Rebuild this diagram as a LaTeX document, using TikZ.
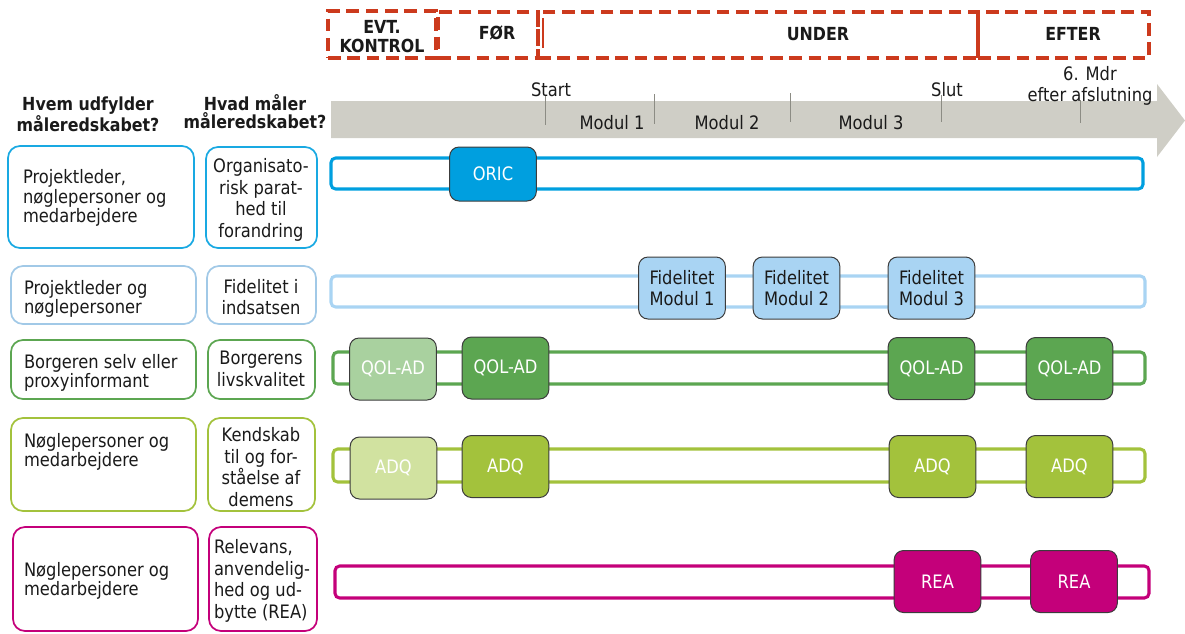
\documentclass[tikz,border=0pt]{standalone}
\usepackage{fontspec}
\setmainfont[FakeStretch=0.88]{DejaVu Sans}
\usetikzlibrary{fit}

\definecolor{oricblue}{HTML}{009FDF}
\definecolor{fidblue}{HTML}{A9D4F3}
\definecolor{qolgreen}{HTML}{5CA651}
\definecolor{qollight}{HTML}{A9D19F}
\definecolor{adqgreen}{HTML}{A3C23C}
\definecolor{adqlight}{HTML}{D1E2A0}
\definecolor{reapink}{HTML}{C4007A}
\definecolor{phasered}{HTML}{CC3A1D}
\definecolor{axisgrey}{HTML}{CFCEC6}
\definecolor{tickgrey}{HTML}{8C8C84}
\definecolor{boxedge}{HTML}{3C3C3C}
\definecolor{inktext}{HTML}{1A1A1A}

\tikzset{
  every node/.style={inner sep=0pt, outer sep=0pt, text=inktext,
    font=\fontsize{13.9pt}{16.3pt}\selectfont},
  phasebox/.style={draw=phasered, line width=2.3pt,
    dash pattern=on 9.5pt off 5pt},
  phaselbl/.style={font=\fontsize{13.5pt}{14.3pt}\selectfont\bfseries, align=center},
  header/.style={font=\fontsize{13.5pt}{13.6pt}\selectfont\bfseries, align=center},
  axislbl/.style={align=center},
  ticmark/.style={draw=tickgrey, line width=0.7pt},
  whobox/.style={draw=#1, line width=1.3pt, rounded corners=9pt},
  whotext/.style={anchor=west, align=left,
    font=\fontsize{13.9pt}{10.8pt}\selectfont},
  whattext/.style={align=center,
    font=\fontsize{13.9pt}{16.3pt}\selectfont},
  bar/.style={draw=#1, line width=2.3pt, rounded corners=3.5pt},
  evbox/.style={draw=boxedge, line width=0.75pt, rounded corners=7pt,
    fill=#1, text=white, align=center,
    minimum width=65pt, minimum height=46.5pt},
}

\begin{document}
\begin{tikzpicture}[x=0.75pt, y=-0.75pt]
\useasboundingbox (0,0) rectangle (1185,633);

% ---- phases ----
\node[phasebox, fit={(328,11) (436,58)}] (pEvt) {};
\node[phasebox, fit={(438,12) (538,58)}] (pFor) {};
\node[phasebox, fit={(538,12) (978,58)}] (pUnder) {};
\node[phasebox, fit={(978,12) (1149,58)}] (pEfter) {};
\draw[phasered, line width=1pt] (543,18) -- (543,48);
\node[phaselbl] (lEvt) at (382,37) {EVT.\\KONTROL};
\node[phaselbl] (lFor) at (497,33) {FØR};
\node[phaselbl] (lUnder) at (818,34) {UNDER};
\node[phaselbl] (lEfter) at (1073,34) {EFTER};

% ---- time axis ----
\fill[axisgrey] (331,101) -- (1157,101) -- (1157,84) -- (1185,120.5)
  -- (1157,157) -- (1157,138) -- (331,138) -- cycle;
\draw[ticmark] (545,95) -- (545,125);
\draw[ticmark] (654,94) -- (654,124);
\draw[ticmark] (790,93) -- (790,122);
\draw[ticmark] (941,95) -- (941,122);
\draw[ticmark] (1080,100) -- (1080,123);
\node[axislbl] (aStart) at (551,90) {Start};
\node[axislbl] (aM1) at (612,123) {Modul 1};
\node[axislbl] (aM2) at (727,123) {Modul 2};
\node[axislbl] (aM3) at (871,123) {Modul 3};
\node[axislbl] (aSlut) at (947,90) {Slut};
\node[axislbl, font=\fontsize{13.9pt}{15.8pt}\selectfont] (aMdr) at (1090,86) {6. Mdr\\efter afslutning};

% ---- column headers ----
\node[header] (hWho) at (88,114) {Hvem udfylder\\måleredskabet?};
\node[header] (hWhat) at (255,112) {Hvad måler\\måleredskabet?};

% ---- left boxes ----
\node[whobox=oricblue!90, fit={(8,146) (194,248)}] (w1) {};
\node[whobox=oricblue!90, fit={(206,147) (317,248)}] (m1) {};
\node[whobox=fidblue!95!black, fit={(11,266) (196,324)}] (w2) {};
\node[whobox=fidblue!95!black, fit={(207,266) (316,324)}] (m2) {};
\node[whobox=qolgreen, fit={(11,340) (196,399)}] (w3) {};
\node[whobox=qolgreen, fit={(208,340) (315,399)}] (m3) {};
\node[whobox=adqgreen, fit={(11,418) (196,511)}] (w4) {};
\node[whobox=adqgreen, fit={(208,418) (315,511)}] (m4) {};
\node[whobox=reapink, fit={(13,527) (198,631)}] (w5) {};
\node[whobox=reapink, fit={(209,527) (317,631)}] (m5) {};

\node[whotext] (tw1) at (23,198) {Projektleder,\\nøglepersoner og\\medarbejdere};
\node[whotext] (tw2) at (24,299) {Projektleder og\\nøglepersoner};
\node[whotext] (tw3) at (24,373) {Borgeren selv eller\\proxyinformant};
\node[whotext] (tw4) at (24,452) {Nøglepersoner og\\medarbejdere};
\node[whotext] (tw5) at (24,581) {Nøglepersoner og\\medarbejdere};

\node[whattext] (tm1) at (261,200) {Organisato-\\risk parat-\\hed til\\forandring};
\node[whattext] (tm2) at (261,297) {Fidelitet i\\indsatsen};
\node[whattext] (tm3) at (261,369) {Borgerens\\livskvalitet};
\node[whattext] (tm4) at (261,467) {Kendskab\\til og for-\\ståelse af\\demens};
\node[whattext, align=left, anchor=west] (tm5) at (214,581) {Relevans,\\anvendelig-\\hed og ud-\\bytte (REA)};

% ---- timeline bars ----
\node[bar=oricblue, fit={(331,158) (1143,189)}] (bar1) {};
\node[bar=fidblue, fit={(331,276) (1145,307)}] (bar2) {};
\node[bar=qolgreen, fit={(333,352) (1145,384)}] (bar3) {};
\node[bar=adqgreen, fit={(333,449) (1145,482)}] (bar4) {};
\node[bar=reapink, fit={(335,566) (1149,598)}] (bar5) {};

% ---- measurements ----
\node[evbox=oricblue, minimum height=40.5pt] (oric) at (493,174) {ORIC};

\node[evbox=fidblue, text=inktext] (fid1) at (682,288) {Fidelitet\\Modul 1};
\node[evbox=fidblue, text=inktext] (fid2) at (796.5,288) {Fidelitet\\Modul 2};
\node[evbox=fidblue, text=inktext] (fid3) at (931.5,288) {Fidelitet\\Modul 3};

\node[evbox=qollight] (qol0) at (393,369) {QOL-AD};
\node[evbox=qolgreen] (qol1) at (505.5,368) {QOL-AD};
\node[evbox=qolgreen] (qol2) at (931.5,368.5) {QOL-AD};
\node[evbox=qolgreen] (qol3) at (1069.5,368.5) {QOL-AD};

\node[evbox=adqlight] (adq0) at (393.5,468) {ADQ};
\node[evbox=adqgreen] (adq1) at (505.5,466.5) {ADQ};
\node[evbox=adqgreen] (adq2) at (932.5,466.5) {ADQ};
\node[evbox=adqgreen] (adq3) at (1069.5,466.5) {ADQ};

\node[evbox=reapink] (rea1) at (937.5,581.5) {REA};
\node[evbox=reapink] (rea2) at (1074,581.5) {REA};
\end{tikzpicture}
\end{document}
